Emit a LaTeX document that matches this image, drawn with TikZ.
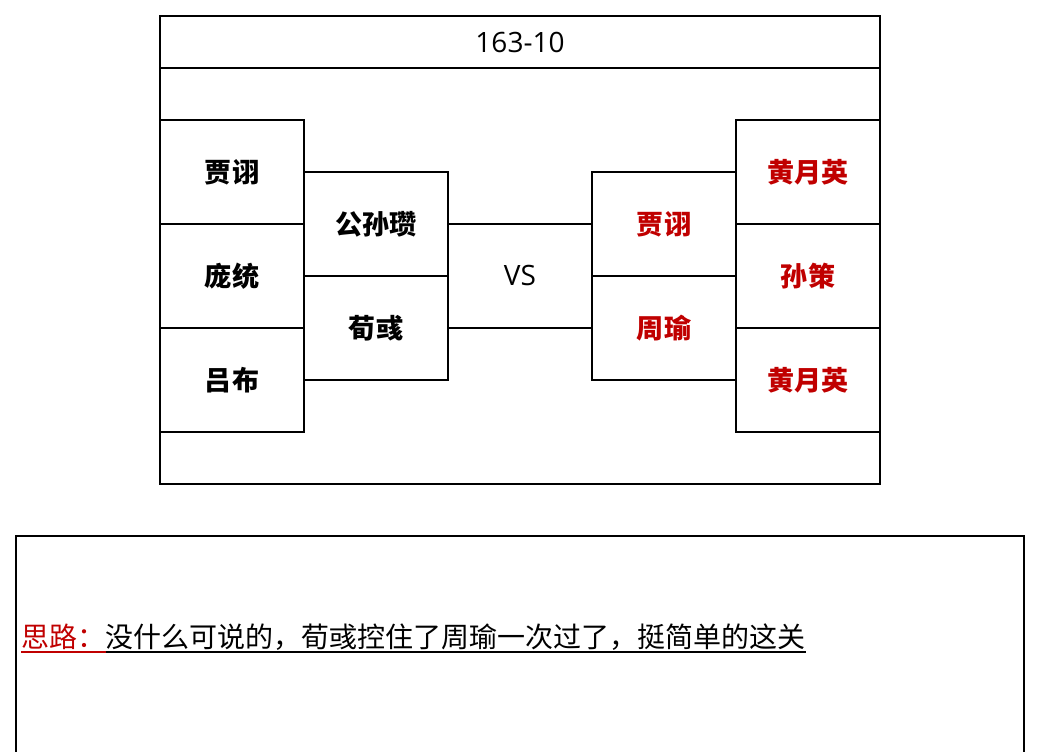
\documentclass[tikz,border=0pt]{standalone}
\usepackage{fontspec}
\setmainfont{Noto Sans CJK SC}
\newfontfamily\latinfont{Open Sans}
\definecolor{redname}{HTML}{C00000}
\begin{document}
\begin{tikzpicture}[x=0.75pt,y=-0.75pt,
  frame/.style={draw=black,line width=1.5pt},
  cell/.style={draw=black,line width=1.5pt,minimum width=108pt,minimum height=78pt,inner sep=0pt,font=\fontsize{20.3pt}{23pt}\selectfont\bfseries},
  redcell/.style={cell,text=redname},
  link/.style={draw=black,line width=1.5pt},
  plain/.style={inner sep=0pt,font=\latinfont\fontsize{21pt}{24pt}\selectfont},
  note/.style={inner sep=0pt,font=\fontsize{21pt}{24pt}\selectfont,anchor=base west}]
\useasboundingbox (0,0) rectangle (1040,752);
% top frame
\node[frame,minimum width=540pt,minimum height=39pt,inner sep=0pt] (title) at (520,42) {};
\node[plain] (titletext) at (520,42) {163-10};
\draw[frame] (160,16) rectangle (880,484);
% left side
\node[cell] (l1) at (232,172) {贾诩};
\node[cell] (l2) at (232,276) {庞统};
\node[cell] (l3) at (232,380) {吕布};
\node[cell] (m1) at (376,224) {公孙瓒};
\node[cell] (m2) at (376,328) {荀彧};
% right side
\node[redcell] (r1) at (664,224) {贾诩};
\node[redcell] (r2) at (664,328) {周瑜};
\node[redcell] (s1) at (808,172) {黄月英};
\node[redcell] (s2) at (808,276) {孙策};
\node[redcell] (s3) at (808,380) {黄月英};
\node[plain] (vs) at (520,276) {VS};
\draw[link] (m1.east) -- (r1.west);
\draw[link] (m2.east) -- (r2.west);
% bottom note box
\draw[frame] (16,760) -- (16,536) -- (1024,536) -- (1024,760);
\node[note,text=redname] (n1) at (21,647) {思路：};
\node[note] (n2) at (n1.base east) {没什么可说的，荀彧控住了周瑜一次过了，挺简单的这关};
\draw[redname,line width=1.5pt] ([yshift=-3.5pt]n1.base west) -- ([yshift=-3.5pt]n1.base east);
\draw[black,line width=1.5pt] ([yshift=-3.5pt]n2.base west) -- ([yshift=-3.5pt]n2.base east);
\end{tikzpicture}
\end{document}
